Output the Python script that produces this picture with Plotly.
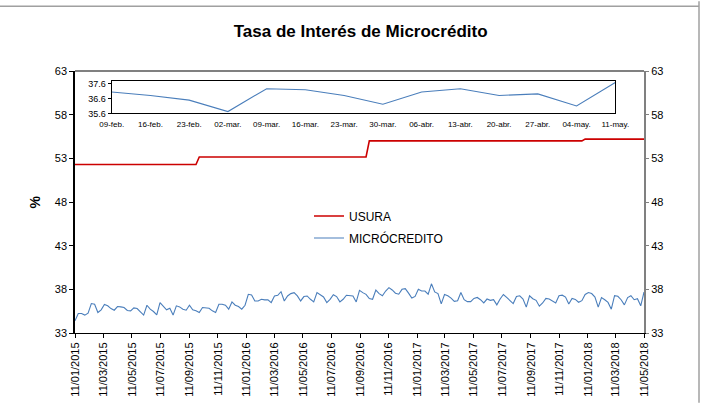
import pandas as pd
import plotly.graph_objects as go

# ---------------- data ----------------
micro_start = "2015-01-09"
micro_vals = [
    34.40, 35.23, 35.23, 35.05, 35.27, 36.37, 36.30, 35.35, 35.65, 36.26,
    36.11, 35.80, 35.61, 36.03, 35.99, 35.92, 35.58, 35.54, 35.88, 35.80,
    35.42, 35.05, 36.18, 35.73, 35.46, 35.08, 36.48, 36.03, 35.65, 35.84,
    35.05, 36.11, 35.99, 35.73, 35.61, 36.18, 35.65, 35.54, 35.35, 35.92,
    35.92, 35.84, 35.54, 35.35, 36.30, 36.30, 36.18, 35.73, 36.56, 36.18,
    36.03, 35.73, 36.18, 37.43, 37.36, 36.67, 36.67, 36.86, 36.79, 36.79,
    36.48, 37.24, 37.32, 37.73, 36.67, 37.24, 37.51, 37.62, 37.24, 36.67,
    37.17, 37.24, 36.86, 36.56, 37.62, 37.36, 37.13, 36.48, 36.86, 37.39,
    37.17, 36.56, 36.86, 37.32, 37.32, 37.24, 36.56, 37.89, 37.62, 37.43,
    36.94, 36.86, 37.92, 37.51,
    37.26, 37.81, 38.19, 37.93, 37.56, 37.44, 38.00, 38.07, 37.56, 37.00,
    37.19, 38.00, 37.81, 37.81, 37.44, 38.63, 37.70, 37.52, 36.33, 37.41,
    37.26, 37.00, 36.63, 36.70, 37.63, 36.81, 36.59, 36.59, 36.96, 37.07,
    36.81, 36.44, 36.89, 36.74, 36.81, 36.22, 36.89, 37.41, 37.07, 36.67,
    36.37, 37.19, 37.26, 36.89, 35.96, 37.26, 36.93, 36.74, 36.07, 36.44,
    36.96, 36.89, 36.70, 36.44, 37.26, 37.33, 37.11, 36.33, 36.96, 36.85,
    36.52, 36.70, 37.41, 37.63, 37.52, 37.11, 35.96,
    37.05, 36.81, 36.50, 35.73, 37.27, 37.20, 36.81, 36.22, 37.05, 37.27,
    36.81, 36.92, 36.11, 37.69,
]
micro_dates = pd.date_range(micro_start, periods=len(micro_vals), freq="7D")

usura_dates = ["2015-01-09", "2015-09-25", "2015-10-02", "2016-09-23",
               "2016-09-30", "2017-12-29", "2018-01-05", "2018-05-11"]
usura_vals = [52.3, 52.3, 53.15, 53.15, 55.0, 55.0, 55.2, 55.2]

x_tick_dates = ["2015-01-11", "2015-03-11", "2015-05-11", "2015-07-11", "2015-09-11",
                "2015-11-11", "2016-01-11", "2016-03-11", "2016-05-11", "2016-07-11",
                "2016-09-11", "2016-11-11", "2017-01-11", "2017-03-11", "2017-05-11",
                "2017-07-11", "2017-09-11", "2017-11-11", "2018-01-11", "2018-03-11",
                "2018-05-11"]
x_tick_labels = ["11/01/2015", "11/03/2015", "11/05/2015", "11/07/2015", "11/09/2015",
                 "11/11/2015", "11/01/2016", "11/03/2016", "11/05/2016", "11/07/2016",
                 "11/09/2016", "11/11/2016", "11/01/2017", "11/03/2017", "11/05/2017",
                 "11/07/2017", "11/09/2017", "11/11/2017", "11/01/2018", "11/03/2018",
                 "11/05/2018"]
y_ticks = [33, 38, 43, 48, 53, 58, 63]

inset_labels = ["09-feb.", "16-feb.", "23-feb.", "02-mar.", "09-mar.", "16-mar.", "23-mar.",
                "30-mar.", "06-abr.", "13-abr.", "20-abr.", "27-abr.", "04-may.", "11-may."]
inset_vals = micro_vals[-len(inset_labels):]
inset_ticks = [35.6, 36.6, 37.6]

# ---------------- figure ----------------
FONT = "Liberation Sans, Arial, sans-serif"
RED = "#CC0000"
BLUE = "#4A7EBB"

W, H = 703, 409
L, R, T, B = 75, 59, 71, 71
PW, PH = W - L - R, H - T - B


def px(xp):
    return (xp - L) / PW


def py(yp):
    return (H - B - yp) / PH


fig = go.Figure()
fig.add_trace(go.Scatter(x=usura_dates, y=usura_vals, mode="lines", name="USURA",
                         line=dict(color=RED, width=1.6), legendgroup="a"))
fig.add_trace(go.Scatter(x=micro_dates, y=micro_vals, mode="lines", name="MICRÓCREDITO",
                         line=dict(color=BLUE, width=1.1), legendgroup="b"))
# right axis carrier
fig.add_trace(go.Scatter(x=[None], y=[None], yaxis="y3", showlegend=False, hoverinfo="skip"))
# inset
fig.add_trace(go.Scatter(x=inset_labels, y=inset_vals, mode="lines", xaxis="x2", yaxis="y2",
                         line=dict(color=BLUE, width=1.1), showlegend=False))

fig.update_layout(
    width=W, height=H, autosize=False,
    margin=dict(l=L, r=R, t=T, b=B),
    paper_bgcolor="white", plot_bgcolor="white",
    font=dict(family=FONT, size=11, color="black"),
    title=dict(text="<b>Tasa de Interés de Microcrédito</b>", x=0.513, xanchor="center",
               y=1 - 31 / H, yanchor="middle", font=dict(size=17, family=FONT, color="black")),
    showlegend=True,
    legend=dict(x=px(309), y=py(204), xanchor="left", yanchor="top",
                bgcolor="rgba(0,0,0,0)", font=dict(size=12, family=FONT, color="black"),
                tracegroupgap=3, traceorder="grouped"),
    xaxis=dict(type="date", range=["2015-01-09", "2018-05-11"], tickmode="array",
               tickvals=x_tick_dates, ticktext=x_tick_labels, tickangle=-90,
               ticks="outside", ticklen=4, tickcolor="black", showline=True,
               linecolor="black", linewidth=1, showgrid=False, zeroline=False,
               tickfont=dict(size=11, family=FONT)),
    yaxis=dict(range=[33, 63], tickmode="array", tickvals=y_ticks, ticks="outside",
               ticklen=4, tickcolor="black", showline=True, linecolor="black", linewidth=1.5,
               showgrid=False, zeroline=False, tickfont=dict(size=11, family=FONT)),
    yaxis3=dict(range=[33, 63], tickmode="array", tickvals=y_ticks, overlaying="y",
                side="right", ticks="outside", ticklen=3, tickcolor="#808080",
                showline=True, linecolor="#808080", linewidth=2, showgrid=False,
                zeroline=False, tickfont=dict(size=11, family=FONT)),
    xaxis2=dict(domain=[px(111.7), px(615.3)], anchor="y2", type="category",
                range=[0, len(inset_labels) - 1], showline=True, mirror=True,
                linecolor="black", linewidth=1, ticks="", showgrid=False, zeroline=False,
                tickfont=dict(size=8, family=FONT), tickangle=0, ticklabelstandoff=3),
    yaxis2=dict(domain=[py(114.3), py(81)], anchor="x2", range=[35.6, 37.8],
                tickmode="array", tickvals=inset_ticks, ticktext=["35.6", "36.6", "37.6"],
                ticks="outside", ticklen=3, tickcolor="black", showline=True, mirror=True,
                linecolor="black", linewidth=1, showgrid=False, zeroline=False,
                tickfont=dict(size=9, family=FONT)),
    annotations=[dict(text="<b>%</b>", x=px(35), y=py(205), xref="paper", yref="paper",
                      xanchor="center", yanchor="middle",
                      showarrow=False, textangle=-90, font=dict(size=14, family=FONT))],
    shapes=[
        dict(type="line", xref="paper", yref="paper", x0=0, x1=1, y0=1, y1=1,
             line=dict(color="#808080", width=2)),
        dict(type="line", xref="paper", yref="paper", x0=px(0), x1=px(699), y0=py(5), y1=py(5),
             line=dict(color="#A0A0A0", width=1.5)),
        dict(type="line", xref="paper", yref="paper", x0=px(699), x1=px(699), y0=py(0), y1=py(409),
             line=dict(color="#A0A0A0", width=1.5)),
    ],
)

fig.write_html("out.html", config={"displayModeBar": False},
               post_script="document.body.style.margin='0';document.body.style.overflow='hidden';")
